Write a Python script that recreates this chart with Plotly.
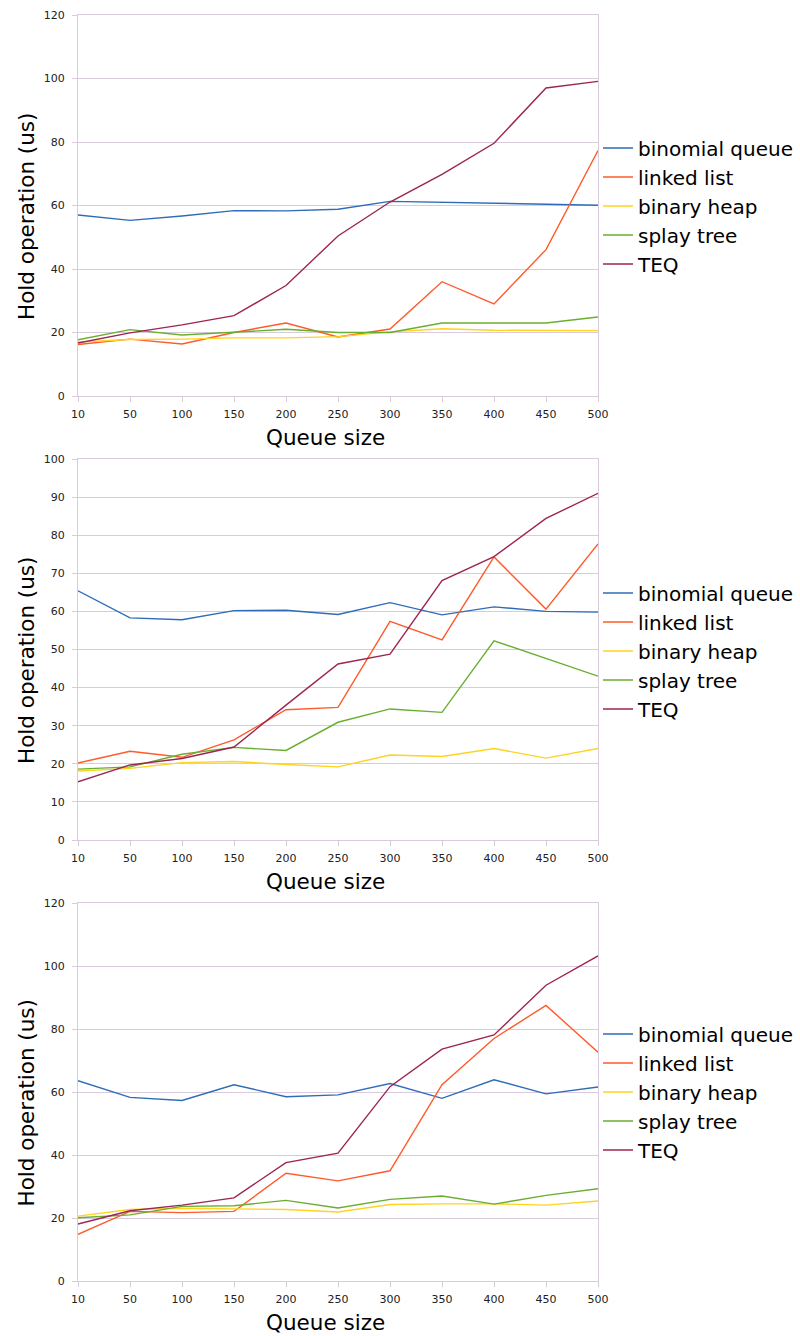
import plotly.graph_objects as go

queue_sizes = ["10", "50", "100", "150", "200", "250", "300", "350", "400", "450", "500"]
series_names = ["binomial queue", "linked list", "binary heap", "splay tree", "TEQ"]
series_colors = ["#2e6cb8", "#ff5a2a", "#ffd320", "#6aae30", "#9c2552"]
x_title = "Queue size"
y_title = "Hold operation (us)"

# Panel 1
p1_binomial = [57.0, 55.3, 56.7, 58.4, 58.3, 58.8, 61.3, 61.0, 60.8, 60.3, 60.1]
p1_linked = [16.2, 17.9, 16.4, 20.0, 23.0, 18.6, 21.1, 36.0, 29.0, 46.1, 77.3]
p1_binary = [17.0, 17.8, 17.9, 18.3, 18.3, 18.7, 20.2, 21.2, 20.7, 20.6, 20.6]
p1_splay = [17.7, 20.9, 19.2, 20.2, 21.0, 20.0, 20.0, 23.0, 23.0, 23.0, 24.9]
p1_teq = [16.7, 19.9, 22.4, 25.3, 34.8, 50.4, 61.1, 69.8, 79.6, 97.0, 99.1]

# Panel 2
p2_binomial = [65.4, 58.3, 57.8, 60.2, 60.3, 59.2, 62.3, 59.1, 61.2, 60.0, 59.8]
p2_linked = [20.2, 23.3, 21.7, 26.3, 34.2, 34.8, 57.4, 52.5, 74.3, 60.6, 77.7]
p2_binary = [18.1, 18.8, 20.3, 20.6, 19.8, 19.2, 22.3, 21.9, 24.0, 21.5, 24.0]
p2_splay = [18.6, 19.2, 22.5, 24.3, 23.5, 30.9, 34.4, 33.5, 52.3, 47.6, 43.0]
p2_teq = [15.3, 19.7, 21.4, 24.4, 35.4, 46.2, 48.8, 68.1, 74.4, 84.4, 91.0]

# Panel 3
p3_binomial = [63.6, 58.3, 57.3, 62.3, 58.5, 59.1, 62.7, 58.0, 63.9, 59.4, 61.6]
p3_linked = [14.8, 22.1, 21.7, 22.1, 34.2, 31.8, 35.0, 62.3, 77.0, 87.5, 72.6]
p3_binary = [20.6, 22.7, 23.1, 23.0, 22.7, 21.9, 24.3, 24.5, 24.5, 24.1, 25.4]
p3_splay = [20.1, 21.0, 23.7, 23.9, 25.6, 23.2, 25.9, 27.0, 24.4, 27.2, 29.3]
p3_teq = [18.1, 22.3, 24.1, 26.4, 37.6, 40.6, 61.7, 73.6, 78.1, 93.9, 103.2]

panels = [
    [p1_binomial, p1_linked, p1_binary, p1_splay, p1_teq],
    [p2_binomial, p2_linked, p2_binary, p2_splay, p2_teq],
    [p3_binomial, p3_linked, p3_binary, p3_splay, p3_teq],
]
y_ranges = [[0, 120], [0, 100], [0, 120]]
y_dticks = [20, 10, 20]

W, H = 800, 1336
plot_left, plot_right = 78, 598
panel_px = [(15, 396), (459, 840), (903, 1281)]
legend_center_px = [206, 651, 1092]

grid_color = "#d9cadd"
font_family = "DejaVu Sans, Liberation Sans, sans-serif"

fig = go.Figure()
annotations = []
layout = dict(
    width=W, height=H,
    margin=dict(l=0, r=0, t=0, b=0, autoexpand=False),
    paper_bgcolor="white", plot_bgcolor="white",
    font=dict(family=font_family, color="#000000"),
)

for i, series in enumerate(panels):
    n = i + 1
    xa = "x" if n == 1 else f"x{n}"
    ya = "y" if n == 1 else f"y{n}"
    lg = "legend" if n == 1 else f"legend{n}"
    for name, color, vals in zip(series_names, series_colors, series):
        fig.add_trace(go.Scatter(
            x=queue_sizes, y=vals, name=name, mode="lines",
            line=dict(color=color, width=1.4),
            xaxis=xa, yaxis=ya, legend=lg,
        ))
    top, bottom = panel_px[i]
    xkey = "xaxis" if n == 1 else f"xaxis{n}"
    ykey = "yaxis" if n == 1 else f"yaxis{n}"
    layout[xkey] = dict(
        domain=[plot_left / W, plot_right / W],
        anchor=ya, type="category",
        categoryorder="array", categoryarray=queue_sizes,
        range=[0, len(queue_sizes) - 1],
        showline=True, linecolor=grid_color, linewidth=1, mirror=True,
        ticks="outside", ticklen=5, tickcolor=grid_color,
        ticklabelstandoff=3,
        showgrid=False, zeroline=False, automargin=False,
        tickfont=dict(size=11, color="#222222"),
    )
    layout[ykey] = dict(
        domain=[1 - bottom / H, 1 - top / H],
        anchor=xa, range=y_ranges[i], dtick=y_dticks[i], tick0=0,
        showline=True, linecolor=grid_color, linewidth=1, mirror=True,
        ticks="outside", ticklen=5, tickcolor=grid_color,
        ticklabelstandoff=5,
        showgrid=True, gridcolor=grid_color, gridwidth=1, zeroline=False, automargin=False,
        tickfont=dict(size=11, color="#222222"),
    )
    layout[lg] = dict(
        x=598 / W, xanchor="left",
        y=1 - legend_center_px[i] / H, yanchor="middle",
        font=dict(size=20, color="#000000"),
        bgcolor="rgba(0,0,0,0)", tracegroupgap=0,
        itemwidth=30,
    )
    # axis titles
    annotations.append(dict(
        text=x_title, xref="paper", yref="paper",
        x=325.5 / W, y=1 - (bottom + 41) / H,
        xanchor="center", yanchor="middle", showarrow=False,
        font=dict(size=21.5, color="#000000"),
    ))
    annotations.append(dict(
        text=y_title, xref="paper", yref="paper", textangle=-90,
        x=26 / W, y=1 - ((top + bottom) / 2 + 11.5) / H,
        xanchor="center", yanchor="middle", showarrow=False,
        font=dict(size=21.5, color="#000000"),
    ))

layout["annotations"] = annotations
fig.update_layout(**layout)
fig.write_html("out.html")
